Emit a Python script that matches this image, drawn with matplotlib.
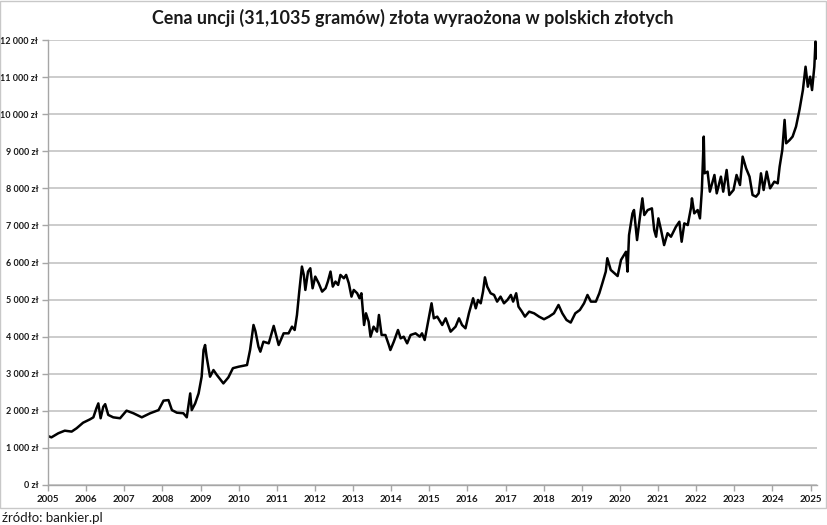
import matplotlib
matplotlib.use('Agg')
import matplotlib.pyplot as plt
from matplotlib.patches import Rectangle
from matplotlib.ticker import FuncFormatter, MultipleLocator

# Values (decimal year, price in PLN per ounce)
years = [
    # 2005 - 2011
    2005.00, 2005.09, 2005.27, 2005.44, 2005.62, 2005.75, 2005.92, 2006.10,
    2006.19, 2006.27, 2006.32, 2006.38, 2006.45, 2006.50, 2006.58, 2006.71,
    2006.89, 2007.06, 2007.24, 2007.46, 2007.68, 2007.90, 2008.03, 2008.16,
    2008.25, 2008.38, 2008.55, 2008.64, 2008.73, 2008.77, 2008.86, 2008.95,
    2009.03, 2009.08, 2009.12, 2009.16, 2009.25, 2009.34, 2009.43, 2009.60,
    2009.73, 2009.85, 2010.00, 2010.22, 2010.30, 2010.39, 2010.44, 2010.52,
    2010.57, 2010.65, 2010.79, 2010.92, 2011.05, 2011.18,
    # 2011 - 2015
    2011.31, 2011.40, 2011.47, 2011.53, 2011.59, 2011.66, 2011.71, 2011.75,
    2011.82, 2011.88, 2011.94, 2012.01, 2012.10, 2012.19, 2012.28, 2012.34,
    2012.41, 2012.47, 2012.54, 2012.61, 2012.67, 2012.76, 2012.82, 2012.89,
    2012.96, 2013.02, 2013.11, 2013.17, 2013.22, 2013.26, 2013.29, 2013.34,
    2013.41, 2013.46, 2013.54, 2013.63, 2013.68, 2013.75, 2013.85, 2013.94,
    2013.98, 2014.07, 2014.18, 2014.25, 2014.33, 2014.42, 2014.51, 2014.64,
    2014.75, 2014.81, 2014.88, 2014.97, 2015.06, 2015.12, 2015.21,
    # 2015 - 2019
    2015.34, 2015.43, 2015.56, 2015.69, 2015.78, 2015.86, 2015.95, 2016.04,
    2016.15, 2016.22, 2016.28, 2016.35, 2016.41, 2016.46, 2016.52, 2016.61,
    2016.70, 2016.78, 2016.87, 2016.96, 2017.05, 2017.14, 2017.20, 2017.28,
    2017.34, 2017.43, 2017.51, 2017.62, 2017.75, 2017.88, 2018.01, 2018.14,
    2018.27, 2018.39, 2018.49, 2018.60, 2018.71, 2018.83, 2018.95, 2019.06,
    2019.15, 2019.24, 2019.37, 2019.46, 2019.54, 2019.63,
    # 2019 - 2020
    2019.67, 2019.76, 2019.81, 2019.94, 2020.03, 2020.16, 2020.20, 2020.24,
    2020.33, 2020.37, 2020.45,
    # 2020 - 2024
    2020.51, 2020.59, 2020.64, 2020.73, 2020.84, 2020.90, 2020.95, 2021.01,
    2021.08, 2021.16, 2021.25, 2021.34, 2021.47, 2021.56, 2021.62, 2021.69,
    2021.78, 2021.87, 2021.89, 2021.95, 2022.04, 2022.10, 2022.15, 2022.20,
    2022.22, 2022.30, 2022.36, 2022.48, 2022.54, 2022.65, 2022.71, 2022.80,
    2022.87, 2022.98, 2023.06, 2023.15, 2023.22, 2023.31, 2023.40, 2023.48,
    2023.57, 2023.64, 2023.70, 2023.77, 2023.85, 2023.94, 2024.05, 2024.14,
    2024.19, 2024.26, 2024.32, 2024.36,
    # 2024 - 2025
    2024.45, 2024.53, 2024.62, 2024.71, 2024.80, 2024.87, 2024.93, 2024.99,
    2025.04, 2025.10, 2025.13, 2025.17,
]
prices = [
    # 2005 - 2011
    1320, 1285, 1395, 1465, 1440, 1530, 1680, 1770,
    1825, 2070, 2200, 1800, 2110, 2180, 1890, 1825,
    1800, 2005, 1935, 1825, 1935, 2020, 2275, 2290,
    2020, 1950, 1935, 1825, 2470, 2020, 2200, 2470,
    2920, 3640, 3775, 3460, 2920, 3100, 2965, 2740,
    2900, 3150, 3190, 3235, 3640, 4315, 4150, 3730,
    3595, 3865, 3820, 4290, 3775, 4090,
    # 2011 - 2015
    4090, 4270, 4180, 4585, 5215, 5890, 5665, 5260,
    5755, 5845, 5305, 5620, 5440, 5215, 5305, 5485,
    5755, 5350, 5485, 5395, 5665, 5575, 5665, 5440,
    5080, 5260, 5170, 5035, 5170, 4675, 4315, 4630,
    4405, 4000, 4270, 4135, 4585, 4045, 4045, 3775,
    3640, 3865, 4180, 3955, 4000, 3820, 4045, 4090,
    4000, 4090, 3910, 4405, 4900, 4495, 4540,
    # 2015 - 2019
    4315, 4495, 4135, 4270, 4495, 4315, 4225, 4630,
    5035, 4765, 4990, 4900, 5215, 5600, 5350, 5170,
    5125, 4945, 5080, 4900, 4990, 5125, 4945, 5170,
    4810, 4675, 4540, 4675, 4630, 4540, 4470, 4540,
    4630, 4855, 4630, 4450, 4380, 4630, 4720, 4900,
    5125, 4945, 4945, 5170, 5440, 5755,
    # 2019 - 2020
    6115, 5800, 5755, 5635, 6070, 6290, 5755, 6740,
    7325, 7415, 6605,
    # 2020 - 2024
    7100, 7730, 7280, 7415, 7460, 6875, 6695, 7190,
    6875, 6470, 6790, 6695, 6965, 7100, 6560, 7055,
    7010, 7505, 7730, 7325, 7415, 7190, 7955, 9395,
    8405, 8450, 7910, 8360, 7865, 8315, 7910, 8495,
    7820, 7955, 8360, 8090, 8855, 8540, 8315, 7820,
    7775, 7865, 8405, 7955, 8450, 8000, 8180, 8135,
    8585, 9035, 9845, 9215,
    # 2024 - 2025
    9300, 9395, 9665, 10115, 10650, 11280, 10740, 11010,
    10650, 11280, 11955, 11505,
]

year_ticks = list(range(2005, 2026))
title = 'Cena uncji (31,1035 gramów) złota wyraożona w polskich złotych'
source = 'źródło: bankier.pl'

plt.rcParams['font.family'] = ['Lato', 'DejaVu Sans']

fig = plt.figure(figsize=(8.28, 5.25), dpi=100)
ax = fig.add_axes([48 / 828, 1 - 485 / 525, 769 / 828, 445 / 525])

ax.plot(years, prices, color='black', linewidth=1.8)

ax.set_xlim(2005, 2025.17)
ax.set_ylim(0, 12000)
ax.yaxis.set_major_locator(MultipleLocator(1000))
ax.yaxis.set_major_formatter(FuncFormatter(lambda v, p: f'{int(v):,} zł'.replace(',', ' ')))
ax.set_xticks(year_ticks)
ax.set_xticklabels([str(y) for y in year_ticks])

ax.grid(True, axis='y', color='#c4c4c4', linewidth=1.2)
ax.set_axisbelow(True)
for side in ['top', 'right']:
    ax.spines[side].set_visible(False)
for side in ['left', 'bottom']:
    ax.spines[side].set_color('#a6a6a6')
    ax.spines[side].set_linewidth(1.0)
ax.tick_params(axis='both', color='#a6a6a6', length=4, width=1,
               labelsize=6.5, labelcolor='#1a1a1a')
for lbl in ax.get_xticklabels() + ax.get_yticklabels():
    lbl.set_fontweight('bold')
ax.tick_params(axis='x', labelsize=7, pad=3)
ax.tick_params(axis='y', pad=3)

fig.text(413 / 828, 1 - 18 / 525, title, ha='center', va='center',
         fontsize=12.9, fontweight='bold', color='#1a1a1a')
fig.text(2 / 828, 1 - 518 / 525, source, ha='left', va='center',
         fontsize=9.5, color='#1a1a1a')

# light frame around the chart
fig.patches.append(Rectangle((0.5 / 828, 1 - 508 / 525), 826 / 828, 508 / 525 - 0.5 / 525,
                             transform=fig.transFigure, fill=False,
                             edgecolor='#c8c8c8', linewidth=1.0))

fig.savefig('out.png', dpi=100)
plt.close(fig)
